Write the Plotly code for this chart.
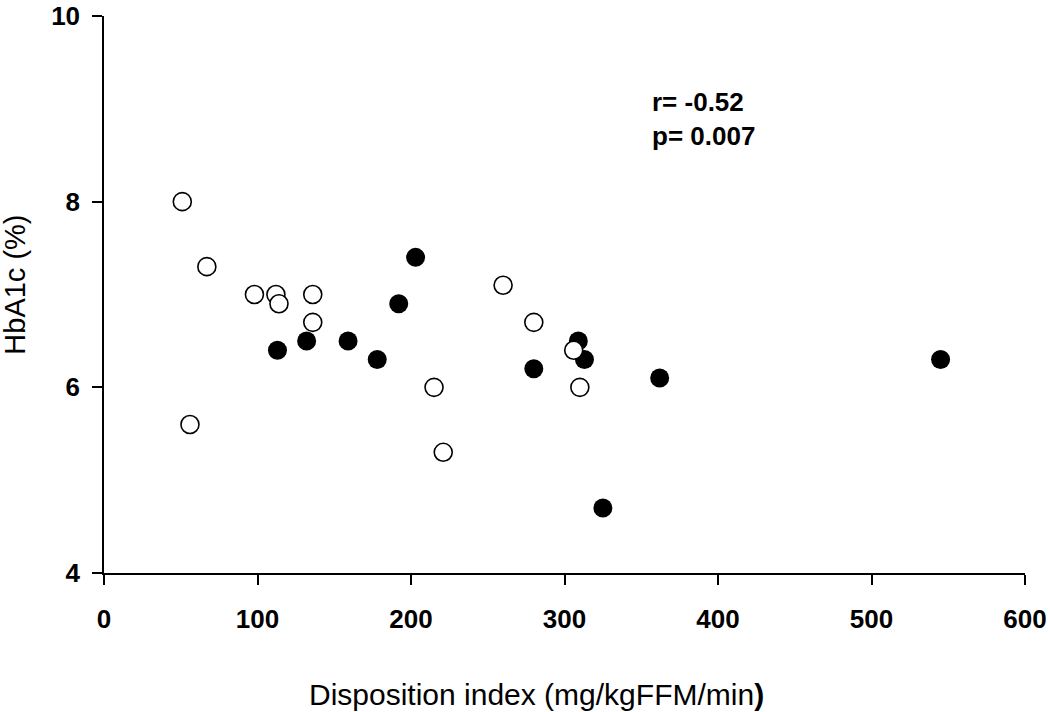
import plotly.graph_objects as go

# Filled circles (group 1)
filled_x = [113, 132, 159, 178, 192, 203, 280, 309, 313, 325, 362, 545]
filled_y = [6.4, 6.5, 6.5, 6.3, 6.9, 7.4, 6.2, 6.5, 6.3, 4.7, 6.1, 6.3]

# Open circles (group 2)
open_x = [51, 67, 98, 112, 114, 136, 136, 56, 215, 221, 260, 280, 306, 310]
open_y = [8.0, 7.3, 7.0, 7.0, 6.9, 7.0, 6.7, 5.6, 6.0, 5.3, 7.1, 6.7, 6.4, 6.0]

x_ticks = [0, 100, 200, 300, 400, 500, 600]
y_ticks = [4, 6, 8, 10]

stats_text = "r= -0.52<br>p= 0.007"
x_title = "Disposition index (mg/kgFFM/min<b>)</b>"
y_title = "HbA1c (%)"

FONT = "Arial, Liberation Sans, Helvetica, sans-serif"

fig = go.Figure()
fig.add_trace(go.Scatter(
    x=filled_x, y=filled_y, mode="markers",
    marker=dict(symbol="circle", size=19, color="black", line=dict(width=0)),
    showlegend=False, cliponaxis=False))
fig.add_trace(go.Scatter(
    x=open_x, y=open_y, mode="markers",
    marker=dict(symbol="circle", size=18, color="white",
                line=dict(width=1.6, color="black")),
    showlegend=False, cliponaxis=False))

fig.add_annotation(
    x=0.593, y=0.815, xref="paper", yref="paper",
    text="<b>" + stats_text + "</b>", showarrow=False,
    xanchor="left", yanchor="middle", align="left",
    font=dict(family=FONT, size=26, color="black"))

fig.add_annotation(
    x=0.470, y=-0.218, xref="paper", yref="paper",
    text=x_title, showarrow=False,
    xanchor="center", yanchor="middle",
    font=dict(family=FONT, size=30, color="black"))

fig.add_annotation(
    x=-0.097, y=0.517, xref="paper", yref="paper",
    text=y_title, showarrow=False, textangle=-90,
    xanchor="center", yanchor="middle",
    font=dict(family=FONT, size=29, color="black"))

fig.update_layout(
    width=1050, height=712,
    margin=dict(l=104, r=25, t=16, b=139),
    paper_bgcolor="white", plot_bgcolor="white",
    font=dict(family=FONT, color="black"),
    xaxis=dict(
        range=[0, 600], tickvals=x_ticks, ticktext=["<b>%d</b>" % v for v in x_ticks],
        showgrid=False, zeroline=False, showline=True, linecolor="black", linewidth=1.5,
        ticks="outside", ticklen=10, tickwidth=1.5, tickcolor="black",
        tickfont=dict(family=FONT, size=26, color="black"),
        ticklabelstandoff=12, ticklabeloverflow="allow", automargin=False),
    yaxis=dict(
        range=[4, 10], tickvals=y_ticks, ticktext=["<b>%d</b>" % v for v in y_ticks],
        showgrid=False, zeroline=False, showline=True, linecolor="black", linewidth=1.5,
        ticks="outside", ticklen=10, tickwidth=1.5, tickcolor="black",
        tickfont=dict(family=FONT, size=26, color="black"),
        ticklabelstandoff=7, ticklabeloverflow="allow", automargin=False),
)

fig.write_html("out.html", config={"displayModeBar": False},
               post_script="document.body.style.margin='0';")
